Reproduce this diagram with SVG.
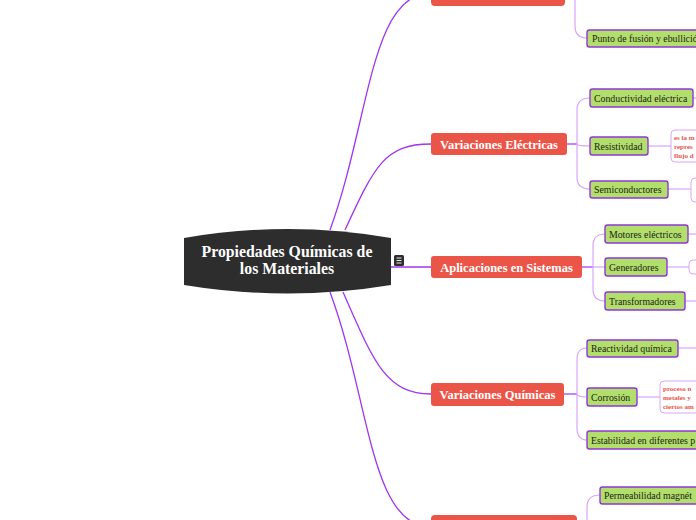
<svg xmlns="http://www.w3.org/2000/svg" width="696" height="520" viewBox="0 0 696 520">
<style>
.root{fill:#2d2d2d}
.rt{font-family:"Liberation Serif",serif;font-weight:bold;font-size:15.8px;fill:#fff;text-anchor:middle}
.l1{fill:#eb5548}
.l1t{font-family:"Liberation Serif",serif;font-weight:bold;font-size:12.5px;fill:#fff;text-anchor:middle}
.l2{fill:#b2df6b;stroke:#9037d8;stroke-width:1.4}
.l2t{font-family:"Liberation Serif",serif;font-size:9.8px;fill:#1a1a1a}
.nt{fill:#fff;stroke:#dba6f6;stroke-width:1}
.ntt{font-family:"Liberation Serif",serif;font-weight:bold;font-size:7px;fill:#e8554a}
.c0{fill:none;stroke:#a035f0;stroke-width:1.3}
.c1{fill:none;stroke:#a035f0;stroke-width:1.2}
.c2{fill:none;stroke:#d8a6f7;stroke-width:1.2}
</style>
<g id="connectors">
<path class="c0" d="M330,230 C370,120 370,-7 431,-7"/>
<path class="c0" d="M345,230 C375,165 385,144 431,144"/>
<path class="c0" d="M391,267 H431"/>
<path class="c0" d="M343,292 C373,360 385,394 431,394"/>
<path class="c0" d="M330,292 C370,400 370,527 431,527"/>
<path class="c1" d="M565,-7 H575"/>
<path class="c2" d="M575,-30 V26 Q575,38 587,38"/>
<path class="c1" d="M567,144 H577"/>
<path class="c2" d="M590,98 Q577,98 577,110 V177 Q577,189 590,189"/>
<path class="c2" d="M577,144 Q577,146 590,146"/>
<path class="c2" d="M693,98 H696"/>
<path class="c2" d="M648,146 H671"/>
<path class="c2" d="M668,189 H691"/>
<path class="c1" d="M582,267 H593"/>
<path class="c2" d="M605,234 Q593,234 593,246 V289 Q593,301 605,301"/>
<path class="c2" d="M593,267 H605"/>
<path class="c2" d="M688,234 H696"/>
<path class="c2" d="M667,267 H689"/>
<path class="c2" d="M685,301 H696"/>
<path class="c1" d="M564,394 H577"/>
<path class="c2" d="M587,348 Q577,348 577,360 V428 Q577,440 587,440"/>
<path class="c2" d="M577,394 Q577,397 587,397"/>
<path class="c2" d="M678,348 H696"/>
<path class="c2" d="M637,397 H660"/>
<path class="c1" d="M577,527 H587"/>
<path class="c2" d="M587,540 V507 Q587,495 600,495"/>
</g>
<g id="root">
<path class="root" d="M184,238 Q288,220 391,238 V285 Q288,302 184,285 Z"/>
<text class="rt" x="287" y="257">Propiedades Químicas de</text>
<text class="rt" x="287" y="274">los Materiales</text>
<rect x="394" y="255" width="10" height="11" rx="1.5" fill="#2d2d2d"/>
<path d="M396.5,258 H401.5 M396.5,260.5 H401.5 M396.5,263 H401.5" stroke="#fff" stroke-width="0.9"/>
</g>
<g id="n-top">
<rect class="l1" x="431" y="-20" width="134" height="26" rx="4"/>
</g>
<g id="n-electricas">
<rect class="l1" x="431" y="133" width="136" height="22" rx="3"/>
<text class="l1t" x="499" y="148.5">Variaciones Eléctricas</text>
</g>
<g id="n-aplicaciones">
<rect class="l1" x="431" y="256" width="151" height="22" rx="3"/>
<text class="l1t" x="506.5" y="271.5">Aplicaciones en Sistemas</text>
</g>
<g id="n-quimicas">
<rect class="l1" x="431" y="383" width="133" height="23" rx="3"/>
<text class="l1t" x="497.5" y="398.5">Variaciones Químicas</text>
</g>
<g id="n-bottom">
<rect class="l1" x="431" y="515" width="146" height="26" rx="4"/>
</g>
<g id="n-punto">
<rect class="l2" x="587" y="30" width="130" height="17" rx="2.5"/>
<text class="l2t" x="592" y="42">Punto de fusión y ebullición</text>
</g>
<g id="n-conductividad">
<rect class="l2" x="590" y="89" width="103" height="18" rx="2.5"/>
<text class="l2t" x="594" y="101.5">Conductividad eléctrica</text>
</g>
<g id="n-resistividad">
<rect class="l2" x="590" y="137" width="58" height="18" rx="2.5"/>
<text class="l2t" x="594" y="149.5">Resistividad</text>
</g>
<g id="note-resistividad">
<rect class="nt" x="671" y="130" width="60" height="32" rx="4"/>
<text class="ntt" x="674" y="139.5">es la m</text>
<text class="ntt" x="674" y="148.5">repres</text>
<text class="ntt" x="674" y="157.5">flujo d</text>
</g>
<g id="n-semiconductores">
<rect class="l2" x="590" y="181" width="78" height="17" rx="2.5"/>
<text class="l2t" x="594" y="193">Semiconductores</text>
</g>
<g id="note-semiconductores">
<rect class="nt" x="691" y="178" width="30" height="24" rx="4"/>
</g>
<g id="n-motores">
<rect class="l2" x="605" y="225" width="83" height="18" rx="2.5"/>
<text class="l2t" x="609" y="237.5">Motores eléctricos</text>
</g>
<g id="n-generadores">
<rect class="l2" x="605" y="258" width="62" height="18" rx="2.5"/>
<text class="l2t" x="609" y="270.5">Generadores</text>
</g>
<g id="note-generadores">
<rect class="nt" x="689" y="260" width="30" height="14" rx="4"/>
</g>
<g id="n-transformadores">
<rect class="l2" x="605" y="292" width="80" height="18" rx="2.5"/>
<text class="l2t" x="609" y="304.5">Transformadores</text>
</g>
<g id="n-reactividad">
<rect class="l2" x="587" y="340" width="91" height="17" rx="2.5"/>
<text class="l2t" x="591" y="352">Reactividad química</text>
</g>
<g id="n-corrosion">
<rect class="l2" x="587" y="388" width="50" height="18" rx="2.5"/>
<text class="l2t" x="591" y="400.5">Corrosión</text>
</g>
<g id="note-corrosion">
<rect class="nt" x="660" y="381" width="60" height="32" rx="4"/>
<text class="ntt" x="663" y="390.5">proceso n</text>
<text class="ntt" x="663" y="399.5">metales y</text>
<text class="ntt" x="663" y="408.5">ciertos am</text>
</g>
<g id="n-estabilidad">
<rect class="l2" x="587" y="431" width="140" height="18" rx="2.5"/>
<text class="l2t" x="591" y="443.5">Estabilidad en diferentes p</text>
</g>
<g id="n-permeabilidad">
<rect class="l2" x="600" y="487" width="120" height="17" rx="2.5"/>
<text class="l2t" x="604" y="499">Permeabilidad magnét</text>
</g>
</svg>
